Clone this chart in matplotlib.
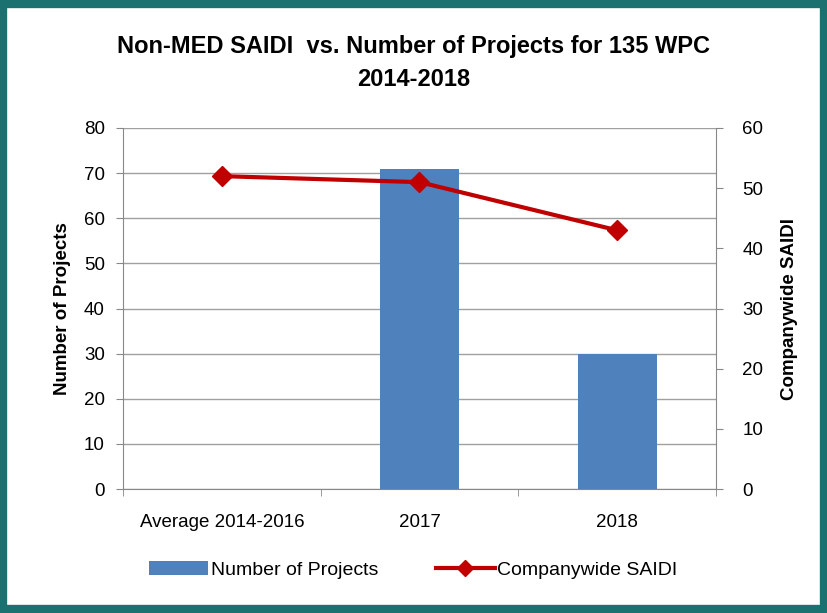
import matplotlib
matplotlib.use("Agg")
import matplotlib.pyplot as plt
from matplotlib.patches import Rectangle
from matplotlib.lines import Line2D
from matplotlib.patches import Patch

categories = ["Average 2014-2016", "2017", "2018"]
projects = [0, 71, 30]
saidi = [52, 51, 43]

plt.rcParams['font.family'] = ['Liberation Sans', 'DejaVu Sans']

fig = plt.figure(figsize=(8.27, 6.13), dpi=100)
ax = fig.add_axes([123/827, 1-489/613, (716-123)/827, (489-128)/613])
x = list(range(len(categories)))
ax.bar(x, projects, width=0.4, color="#4F81BD", zorder=2)
ax.set_xlim(-0.5, 2.5)
ax.set_ylim(0, 80)
ax.set_yticks(range(0, 81, 10))
ax.grid(axis='y', color="#A0A0A0", linewidth=1, zorder=0)
ax.set_xticks(x)
ax.set_xticklabels(categories, fontsize=13.5)
ax.set_xticks([-0.5, 0.5, 1.5, 2.5], minor=True)
ax.tick_params(axis='x', which='major', length=0, pad=18)
ax.tick_params(axis='x', which='minor', length=5, color="#888888", direction='out')
ax.tick_params(axis='y', labelsize=13.5, length=5, color="#888888", pad=8)
for s in ['top', 'right']:
    ax.spines[s].set_visible(False)
ax.spines['left'].set_color("#888888")
ax.spines['bottom'].set_color("#888888")
ax.set_ylabel("Number of Projects", fontsize=13.5, fontweight='bold', labelpad=9)

ax2 = ax.twinx()
ax2.plot(x, saidi, color="#C00000", linewidth=3, marker='D', markersize=10, zorder=3)
ax2.set_ylim(0, 60)
ax2.set_yticks(range(0, 61, 10))
ax2.tick_params(axis='y', labelsize=13.5, length=5, color="#888888", pad=14)
for s in ['top', 'left', 'bottom']:
    ax2.spines[s].set_visible(False)
ax2.spines['right'].set_color("#888888")
ax2.set_ylabel("Companywide SAIDI", fontsize=13.5, fontweight='bold', labelpad=13)

fig.text(0.5, 1-47/613, "Non-MED SAIDI  vs. Number of Projects for 135 WPC", ha='center', va='center',
         fontsize=17, fontweight='bold')
fig.text(0.5, 1-79/613, "2014-2018", ha='center', va='center', fontsize=17, fontweight='bold')

handles = [Patch(facecolor="#4F81BD", label="Number of Projects"),
           Line2D([0], [0], color="#C00000", linewidth=3, marker='D', markersize=8, label="Companywide SAIDI")]
fig.legend(handles=handles, loc='center', bbox_to_anchor=(0.5, 1-570/613), ncol=2, frameon=False,
           fontsize=14, handlelength=3.0, columnspacing=3.0, handletextpad=0.15)

fig.patches.append(Rectangle((0.004, 0.006), 0.992, 0.988, transform=fig.transFigure, fill=False,
                             edgecolor="#1B7070", linewidth=6))
fig.savefig("out.png", dpi=100)
